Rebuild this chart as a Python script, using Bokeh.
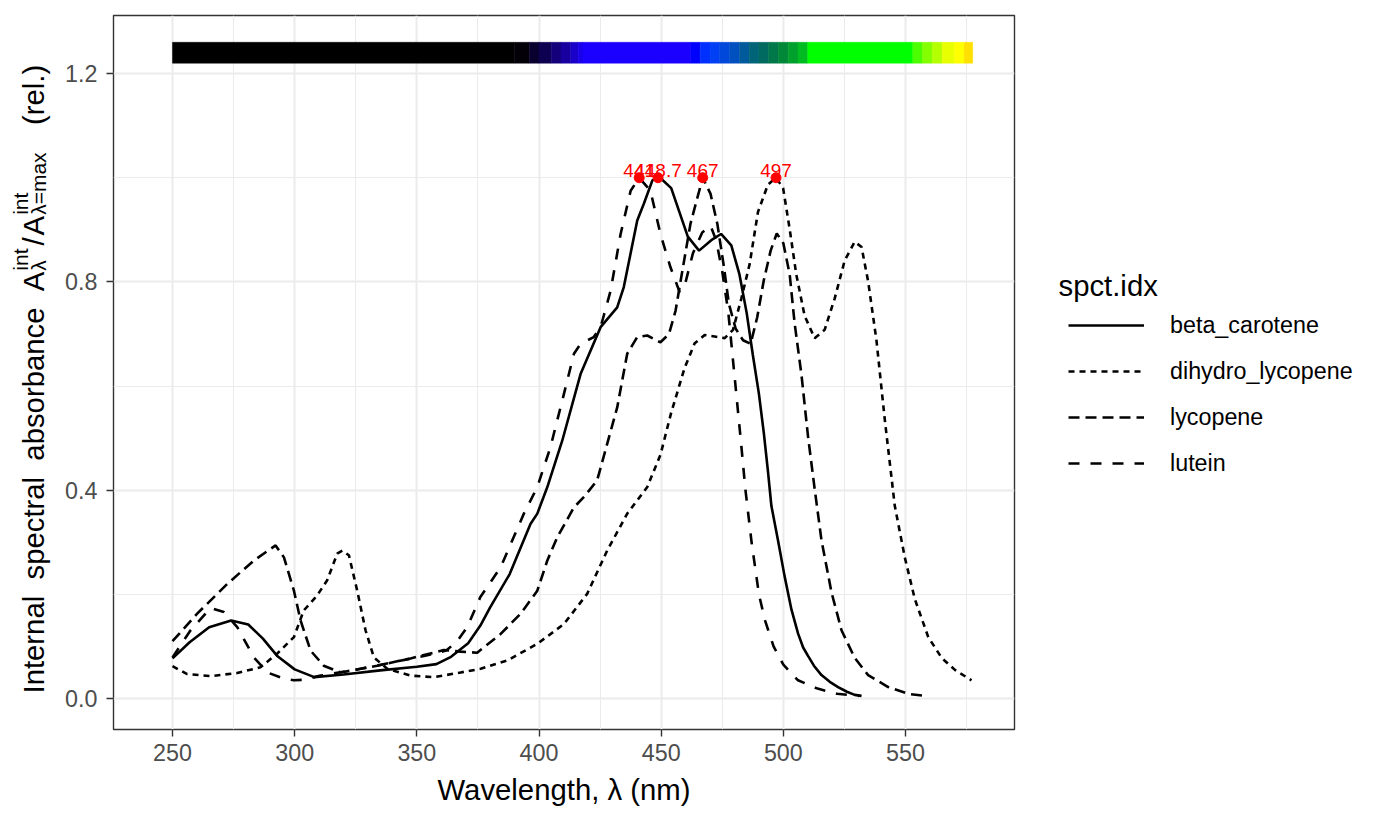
from math import pi
from bokeh.plotting import figure
from bokeh.layouts import row
from bokeh.models import Range1d, FixedTicker, Label, Legend, LegendItem
from bokeh.core.properties import value
from bokeh.embed import file_html
from bokeh.resources import INLINE

# ---------------- data ----------------
beta_wl = [250, 257, 265, 274, 281, 287, 293, 300, 308, 320, 335, 350, 358, 364, 371,
           376, 380, 388, 396.5, 399.3, 403.4, 409.5, 417, 425.2, 432, 434.7, 440.2, 442.9,
           446.4, 448.7, 450, 454.1, 460.9, 465.5, 470.5, 474.5, 478.7, 482, 485, 487.5,
           490, 492, 493.7, 495.1, 497.8, 500.5, 503.3, 506, 508.1, 510.1, 512.5, 515.6,
           519, 522.4, 526, 529.2, 532]
beta_val = [0.077, 0.108, 0.137, 0.150, 0.142, 0.115, 0.081, 0.056, 0.041, 0.046, 0.054,
            0.061, 0.066, 0.080, 0.106, 0.140, 0.175, 0.239, 0.335, 0.355, 0.406, 0.495,
            0.623, 0.713, 0.751, 0.790, 0.918, 0.950, 0.995, 1.0, 0.998, 0.980, 0.887,
            0.860, 0.880, 0.892, 0.870, 0.815, 0.74, 0.66, 0.585, 0.51, 0.436, 0.370,
            0.304, 0.235, 0.171, 0.125, 0.098, 0.082, 0.063, 0.045, 0.032, 0.022, 0.013,
            0.007, 0.005]

dih_wl = [250, 256, 265.6, 276.5, 286, 292.8, 299.7, 303.7, 309.2, 313.3, 317.4, 319.5,
          322.2, 325.6, 329, 332.4, 337.9, 347.4, 357, 367.9, 376.1, 387, 399.3, 410.2,
          419.7, 427.9, 436.1, 444.3, 449.7, 454.1, 459.6, 463.7, 467.8, 471.9, 476,
          479.4, 482.8, 486.2, 489.6, 493.7, 497, 499.9, 502.6, 505.3, 508.7, 512.8,
          516.9, 521, 525.1, 529.2, 532, 534.7, 538.1, 541.5, 545.6, 549.7, 553.8,
          559.3, 564.8, 570.2, 577]
dih_val = [0.062, 0.047, 0.043, 0.049, 0.060, 0.086, 0.118, 0.169, 0.198, 0.227, 0.278,
           0.284, 0.275, 0.207, 0.131, 0.079, 0.057, 0.044, 0.041, 0.050, 0.057, 0.073,
           0.105, 0.143, 0.201, 0.284, 0.355, 0.406, 0.468, 0.549, 0.635, 0.682, 0.698,
           0.695, 0.692, 0.708, 0.768, 0.834, 0.934, 0.987, 1.0, 0.980, 0.901, 0.814,
           0.735, 0.692, 0.708, 0.768, 0.841, 0.877, 0.867, 0.801, 0.688, 0.536, 0.370,
           0.271, 0.191, 0.118, 0.078, 0.055, 0.035]

lyc_wl = [250, 260.1, 272.4, 283.3, 292.2, 295.6, 299.7, 302.4, 306.5, 311.9, 318.8,
          333.8, 347.4, 361, 368, 374.7, 384.3, 392.5, 399.3, 403.4, 407.5, 414.3, 418.4,
          423.8, 427.9, 432, 436.1, 440.2, 444.3, 449.7, 453.2, 455.9, 458, 462, 467,
          470.2, 473, 475.7, 477.7, 480.5, 483.5, 486.6, 489.3, 492, 494.8, 497.3, 500,
          502.6, 504.6, 507.4, 510.1, 512.8, 515.6, 519.7, 523.8, 529.2, 534.7, 542.9,
          551.1, 558]
lyc_val = [0.110, 0.163, 0.220, 0.265, 0.294, 0.271, 0.207, 0.150, 0.092, 0.063, 0.050,
           0.063, 0.077, 0.093, 0.090, 0.088, 0.124, 0.163, 0.207, 0.265, 0.310, 0.367,
           0.387, 0.419, 0.489, 0.559, 0.662, 0.694, 0.697, 0.684, 0.700, 0.745, 0.803,
           0.912, 1.0, 0.969, 0.911, 0.828, 0.758, 0.71, 0.688, 0.681, 0.732, 0.803,
           0.860, 0.893, 0.874, 0.814, 0.721, 0.622, 0.503, 0.403, 0.304, 0.204, 0.131,
           0.078, 0.045, 0.022, 0.009, 0.005]

lut_wl = [250, 257.4, 265.6, 271, 276.5, 283.3, 288.8, 295.6, 299.7, 303.7, 310.6, 327,
          340.6, 354.3, 362, 366.5, 370.6, 376, 384.3, 393.8, 399.3, 404.7, 410.2, 414.3,
          417, 422.4, 425.2, 429.3, 433.4, 437.5, 441, 445.6, 449.7, 453.8, 457.5, 460,
          463, 466.8, 470.2, 472.5, 475, 477.5, 479.8, 482.5, 484.5, 487, 490, 492.5,
          496, 500, 506, 514, 522, 531]
lut_val = [0.079, 0.131, 0.174, 0.166, 0.137, 0.079, 0.050, 0.038, 0.035, 0.036, 0.044,
           0.057, 0.070, 0.083, 0.092, 0.110, 0.137, 0.195, 0.252, 0.355, 0.406, 0.483,
           0.585, 0.662, 0.681, 0.694, 0.713, 0.783, 0.892, 0.975, 1.0, 0.975, 0.892,
           0.828, 0.781, 0.80, 0.855, 0.895, 0.908, 0.88, 0.82, 0.74, 0.63, 0.50, 0.40,
           0.30, 0.20, 0.15, 0.10, 0.065, 0.035, 0.019, 0.009, 0.005]

series_names = ["beta_carotene", "dihydro_lycopene", "lycopene", "lutein"]
series_dash = ["solid", "6 5", "11 6", "11 11"]

peak_wl = [441, 448.7, 467, 497]
peak_val = [1.0, 1.0, 1.0, 1.0]
peak_lbl = ["441", "448.7", "467", "497"]

x_ticks = [250, 300, 350, 400, 450, 500, 550]
x_minor = [275, 325, 375, 425, 475, 525, 575]
y_ticks = [0.0, 0.4, 0.8, 1.2]
y_tick_labels = ["0.0", "0.4", "0.8", "1.2"]
y_minor = [0.2, 0.6, 1.0]

# wavelength colour band (left edges and colours)
bar_wl = [250, 390, 396, 400, 405, 409, 413, 416, 418, 462, 466, 470, 474, 478, 482, 486,
          490, 494, 498, 502, 506, 510, 553, 557, 561, 565, 570, 574]
bar_end = 577.5
bar_col = ["#000000", "#040008", "#0a0030", "#0e0050", "#14007a", "#1800a0", "#1a00c8",
           "#1a00e8", "#1c00ff", "#0000ff", "#0030ff", "#0040f4", "#0048dc", "#0050c0",
           "#005a9c", "#006478", "#006a60", "#00784a", "#008838", "#00a02c", "#00bc22",
           "#00ff00", "#4cff00", "#84ff00", "#b4ff00", "#e8ff00", "#ffff00", "#ffe000"]

# ---------------- layout constants (canvas px, matching the reference) ----------------
FONT = "Liberation Sans"
TOTAL_W, H = 1374, 817
LEFT_W = 62            # strip holding the y title
RIGHT_X = 1040         # start of the legend strip
FL, FR, FT, FB = 113, 1014, 15, 729   # panel edges
LW = 2.6
TITLE_FS = 29.3
TEXT_FS = 23.3
NB = "\u00a0"


def blank(width, height):
    f = figure(width=width, height=height, output_backend="svg", toolbar_location=None,
               x_axis_type=None, y_axis_type=None, x_range=Range1d(0, width),
               y_range=Range1d(0, height), min_border=0, min_border_left=0,
               min_border_right=0, min_border_top=0, min_border_bottom=0)
    f.outline_line_color = None
    f.grid.visible = False
    f.background_fill_color = "white"
    f.border_fill_color = "white"
    return f


# ---------------- main panel ----------------
main_w = RIGHT_X - LEFT_W
p = figure(width=main_w, height=H, output_backend="svg", toolbar_location=None,
           x_range=Range1d(225.85, 594.6), y_range=Range1d(-0.0595, 1.3115),
           min_border_left=FL - LEFT_W, min_border_right=RIGHT_X - FR,
           min_border_top=FT, min_border_bottom=H - FB)
p.background_fill_color = "white"
p.border_fill_color = "white"
p.outline_line_color = "#333333"
p.outline_line_width = 1.4

p.xaxis.ticker = FixedTicker(ticks=x_ticks, minor_ticks=x_minor)
p.yaxis.ticker = FixedTicker(ticks=y_ticks, minor_ticks=y_minor)
p.yaxis.major_label_overrides = {v: s for v, s in zip(y_ticks, y_tick_labels)}
for ax in (p.xaxis, p.yaxis):
    ax.axis_line_color = None
    ax.minor_tick_line_color = None
    ax.major_tick_line_color = "#333333"
    ax.major_tick_line_width = 1.4
    ax.major_tick_in = 0
    ax.major_tick_out = 7
    ax.major_label_text_font = FONT
    ax.major_label_text_font_size = f"{TEXT_FS}px"
    ax.major_label_text_color = "#4D4D4D"
p.xaxis.major_label_standoff = 7
p.yaxis.major_label_standoff = 9
p.xaxis.axis_label = "Wavelength, \u03bb (nm)"
p.xaxis.axis_label_text_font = FONT
p.xaxis.axis_label_text_font_size = f"{TITLE_FS}px"
p.xaxis.axis_label_text_font_style = "normal"
p.xaxis.axis_label_text_color = "black"
p.xaxis.axis_label_standoff = 9
for g in (p.xgrid, p.ygrid):
    g.grid_line_color = "#EBEBEB"
    g.grid_line_width = 2
    g.minor_grid_line_color = "#EBEBEB"
    g.minor_grid_line_width = 1

# colour band
p.quad(left=bar_wl, right=bar_wl[1:] + [bar_end], bottom=1.22, top=1.26,
       fill_color=bar_col, line_color=bar_col, line_width=0.5)

# spectra
for wl, val, dash in zip([beta_wl, dih_wl, lyc_wl, lut_wl],
                         [beta_val, dih_val, lyc_val, lut_val], series_dash):
    p.line(wl, val, line_color="black", line_width=LW, line_dash=dash)

# peaks
p.scatter(peak_wl, peak_val, size=10, fill_color="red", line_color="red")
p.text(peak_wl, peak_val, text=peak_lbl, text_color="red", text_align="center",
       text_baseline="alphabetic", y_offset=-7, text_font=value(FONT),
       text_font_size="19px")

# ---------------- legend strip (frame is aligned with the panel: y from 729) ----------------
right_w = TOTAL_W - RIGHT_X
pr = blank(right_w, H)
nan = float("nan")
keys = [pr.line([nan], [nan], line_color="black", line_width=LW, line_dash=d)
        for d in series_dash]
legend = Legend(items=[LegendItem(label=n, renderers=[r]) for n, r in zip(series_names, keys)],
                location=(1068 - RIGHT_X, FB - 486), orientation="vertical",
                padding=0, margin=0, spacing=0,
                glyph_width=76, glyph_height=46, label_height=46,
                label_standoff=26, label_text_font=FONT,
                label_text_font_size=f"{TEXT_FS}px", label_text_color="black",
                border_line_color=None, background_fill_alpha=0)
pr.add_layout(legend)
pr.add_layout(Label(x=1058 - RIGHT_X, y=FB - 285, x_units="screen", y_units="screen",
                    text="spct.idx", text_font=FONT, text_font_size=f"{TITLE_FS}px",
                    text_color="black", text_baseline="alphabetic"))

# ---------------- y title strip (rotated, with scripts) ----------------
pl = blank(LEFT_W, H)
CW = {"I": .278, "n": .556, "t": .278, "e": .556, "r": .333, "a": .556, "l": .222,
      "s": .5, "p": .556, "c": .5, "b": .556, "o": .556, "A": .667, "i": .222,
      "/": .278, "\u03bb": .5, "=": .584, "m": .833, "x": .5, "(": .333, ")": .333,
      ".": .278, " ": .278, NB: .278}


def tw(s, fs):
    return sum(CW[c] for c in s) * fs


MAIN, SCR = TITLE_FS, 21
XB = 33
XSUP = XB - 13
XSUB = XB + 5


def ylab(text, ref_y, x, fs):
    pl.add_layout(Label(x=x, y=FB - ref_y, x_units="screen", y_units="screen",
                        text=text, angle=pi / 2, text_align="left",
                        text_baseline="alphabetic", text_font=FONT,
                        text_font_size=f"{fs}px", text_color="black"))


cur = 693
t1 = NB.join(["Internal", "", "spectral", "", "absorbance", "", "A"])
ylab(t1, cur, XB, MAIN)
cur -= tw(t1, MAIN) + 1
ylab("int", cur, XSUP, SCR)
ylab("\u03bb", cur, XSUB, SCR)
cur -= max(tw("int", SCR), tw("\u03bb", SCR)) + 3
ylab("/", cur, XB, MAIN)
cur -= tw("/", MAIN) + 2
ylab("A", cur, XB, MAIN)
cur -= tw("A", MAIN) + 1
ylab("int", cur, XSUP, SCR)
ylab("\u03bb=max", cur, XSUB, SCR)
cur -= max(tw("int", SCR), tw("\u03bb=max", SCR)) + 3
ylab(NB * 3 + "(rel.)", cur, XB, MAIN)

layout = row(pl, p, pr, spacing=0)
open("out.html", "w").write(file_html(layout, INLINE))
